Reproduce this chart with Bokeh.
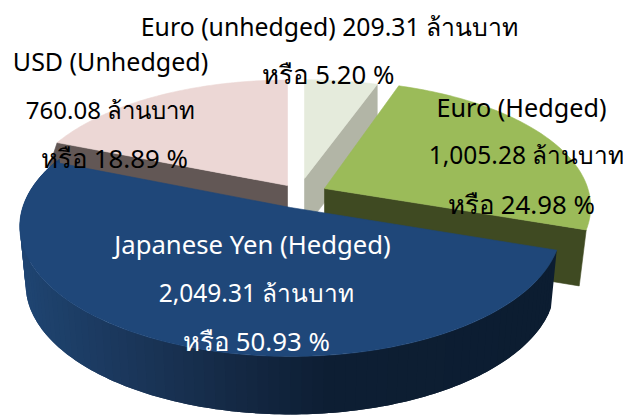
import math
from bokeh.plotting import figure
from bokeh.models import Range1d
from bokeh.core.properties import value
from bokeh.embed import file_html
from bokeh.resources import INLINE

# data, clockwise from twelve o'clock
categories = ["Euro (unhedged)", "Euro (Hedged)", "Japanese Yen (Hedged)", "USD (Unhedged)"]
baht_million = [209.31, 1005.28, 2049.31, 760.08]
percent = [5.20, 24.98, 50.93, 18.89]
unit = "ล้านบาท"

W, H = 623, 415
p = figure(width=W, height=H, x_range=Range1d(0, W), y_range=Range1d(H, 0),
           output_backend="svg", toolbar_location=None, min_border=0,
           outline_line_color=None, background_fill_color="white")
p.axis.visible = False
p.grid.visible = False

# perspective circle -> screen
K, A, B = 0.146, 266.0, 127.2
def project(deg, apex, sx=1.0, sy=1.0):
    u, v = math.cos(math.radians(deg)), math.sin(math.radians(deg))
    d = 1 + K * v
    return apex[0] + sx * A * u / d, apex[1] - sy * B * v / d

def arc(a0, a1, apex, sx, sy, n=80):
    pts = [project(a0 + (a1 - a0) * i / n, apex, sx, sy) for i in range(n + 1)]
    return [q[0] for q in pts], [q[1] for q in pts]

# slice angles from the values
total = sum(baht_million)
angles = [90.0]
for v in baht_million:
    angles.append(angles[-1] - 360.0 * v / total)

def poly(xs, ys, c, lw=0.6):
    p.patch(xs, ys, fill_color=c, line_color=c if lw else None, line_width=lw or 1)

def top(i, apex, sx, sy, c):
    xs, ys = arc(angles[i], angles[i + 1], apex, sx, sy)
    poly([apex[0]] + xs, [apex[1]] + ys, c)

def face(i_angle, apex, sx, sy, down, dx, c):
    cx, cy = project(i_angle, apex, sx, sy)
    poly([cx, apex[0], apex[0], cx + dx], [cy, apex[1], apex[1] + down, cy + down], c)

# Euro unhedged
pale = ((304, 178), 0.97, 0.89)
face(angles[1], pale[0], pale[1], pale[2], 50, 0, "#B2B5A6")
top(0, *pale, "#E5EBDC")

# USD unhedged
pink = ((287, 185), 0.985, 0.95)
face(angles[3], pink[0], pink[1], pink[2], 24, -8, "#625755")
top(3, *pink, "#ECD7D5")

# Euro hedged
green = ((324, 188), 0.99, 0.97)
face(angles[2], green[0], green[1], green[2], 56, -7, "#3F4A22")
top(1, *green, "#9BBB59")

# Japanese Yen: wall with a left to right shade
blue = ((290, 207), 1.007, 1.0)
stops = [(19, (31, 69, 115)), (70, (29, 63, 104)), (150, (26, 53, 88)), (260, (19, 39, 65)),
         (340, (13, 30, 51)), (560, (12, 29, 49))]
def shade(x):
    for (x0, c0), (x1, c1) in zip(stops, stops[1:]):
        if x <= x1:
            t = max(0.0, (x - x0) / (x1 - x0))
            return "#%02x%02x%02x" % tuple(round(a + (b - a) * t) for a, b in zip(c0, c1))
    return "#%02x%02x%02x" % stops[-1][1]

def low(s):
    x, y = project(s, blue[0], 0.985, 1.0)
    return x, y + 58

a0, a1 = angles[2], angles[3]
N = 90
for j in range(N - 1, -1, -1):
    s0 = a0 + (a1 - a0) * j / N
    s2 = a0 + (a1 - a0) * (j + 2) / N
    sm = a0 + (a1 - a0) * (j + 0.5) / N
    mid = [s0 + (s2 - s0) * q / 4 for q in range(5)]
    tp = [project(s, blue[0], blue[1], blue[2]) for s in mid]
    bt = [low(s) for s in mid]
    xs = [q[0] for q in tp] + [q[0] for q in reversed(bt)]
    ys = [q[1] for q in tp] + [q[1] for q in reversed(bt)]
    poly(xs, ys, shade(project(sm, blue[0])[0]), lw=0)
top(2, *blue, "#1F4779")

# labels
FONT = value("Noto Sans")
def label(x, y, txt, size, c="black"):
    p.text([x], [y], text=[txt], text_font=FONT, text_font_size=f"{size}px", text_color=c,
           text_align="center", text_baseline="middle")

def money(v):
    return f"{v:,.2f}"

label(329, 25, f"{categories[0]} {money(baht_million[0])} {unit}", 24.8)
label(328, 73, f"หรือ {percent[0]:.2f} %", 25.8)
label(110, 60, categories[3], 25)
label(110, 109, f"{money(baht_million[3])} {unit}", 24)
label(114, 157, f"หรือ {percent[3]:.2f} %", 25.8)
label(521, 106, categories[1], 25.2)
label(526, 154, f"{money(baht_million[1])} {unit}", 24.5)
label(521, 203, f"หรือ {percent[1]:.2f} %", 25.8)
label(252, 244, categories[2], 25.7, "white")
label(256, 292, f"{money(baht_million[2])} {unit}", 24.5, "white")
label(256, 340, f"หรือ {percent[2]:.2f} %", 25.8, "white")

open("out.html", "w").write(file_html(p, INLINE))
